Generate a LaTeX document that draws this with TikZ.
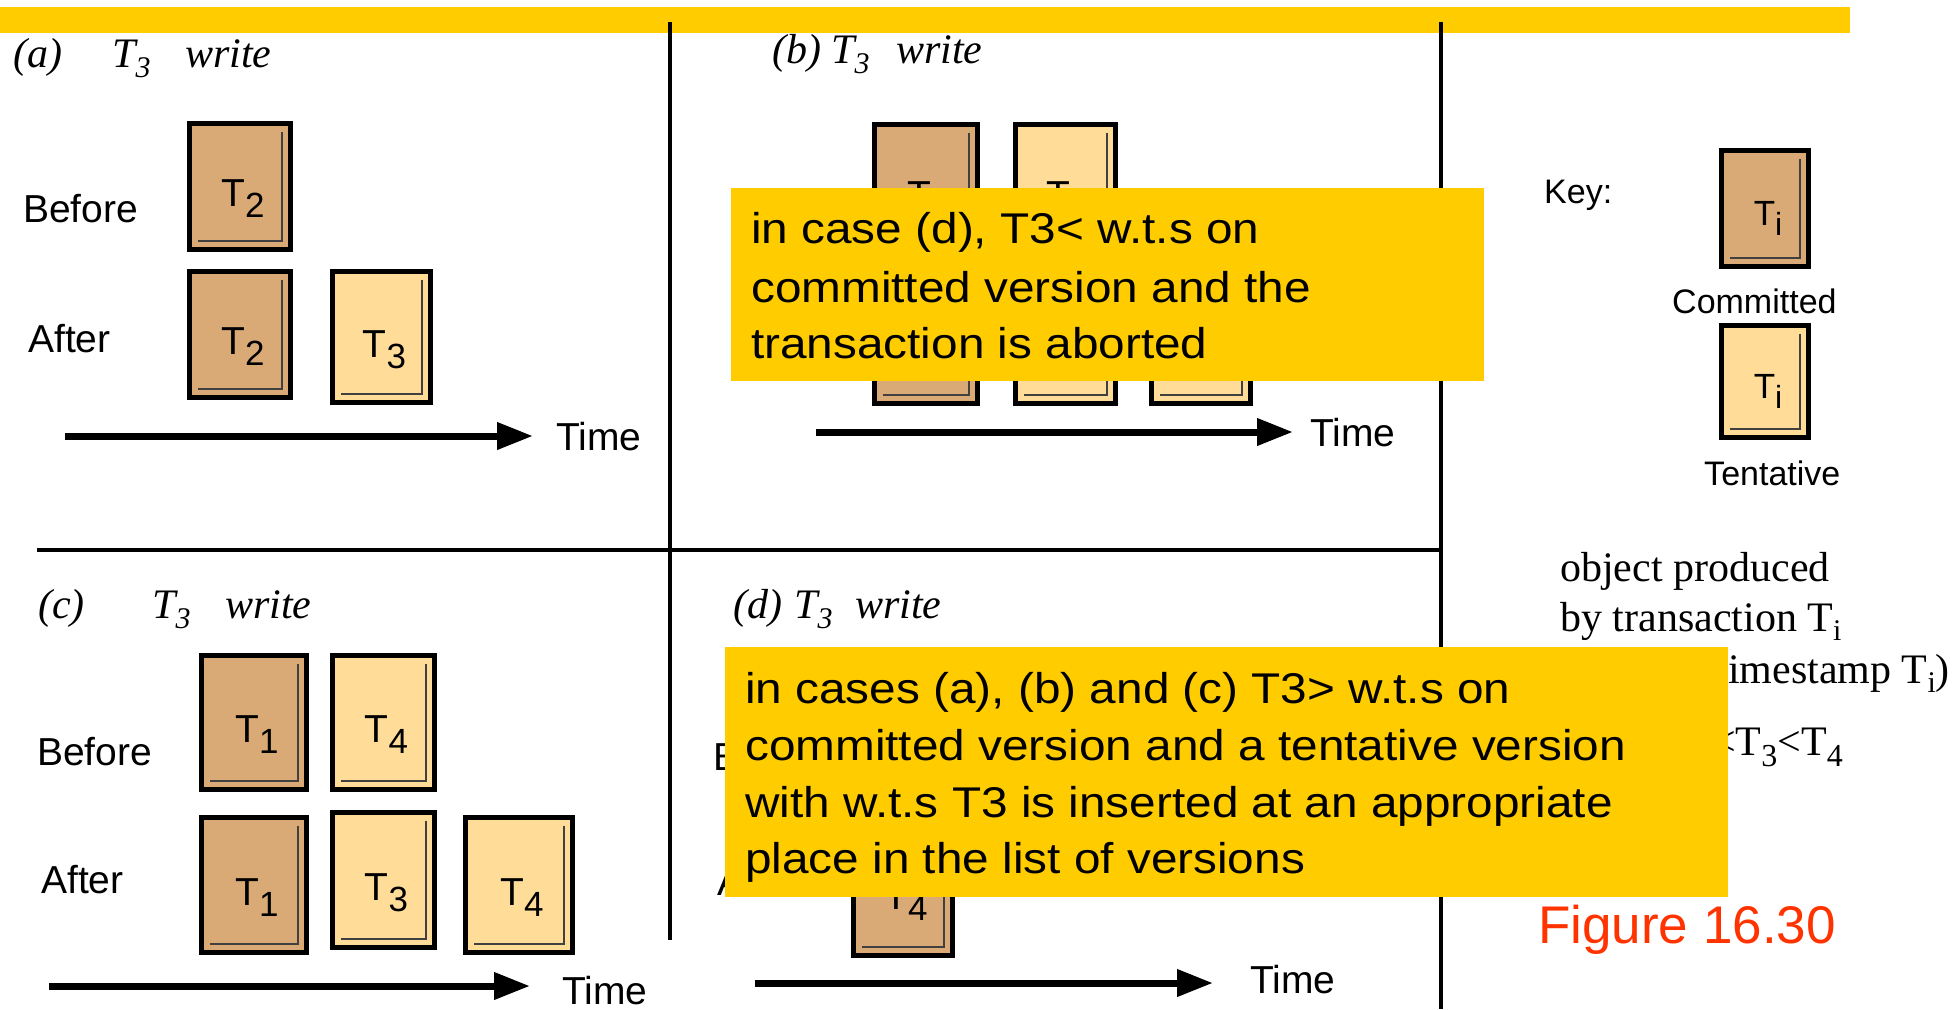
\documentclass[tikz,border=0pt]{standalone}
\usepackage{fontspec}
\setmainfont{Liberation Sans}
\newfontfamily\tmsfont{Liberation Serif}
\newfontfamily\callfont[FakeStretch=1.11]{Liberation Sans}
\usetikzlibrary{arrows.meta}
\definecolor{barY}{HTML}{FFCC00}
\definecolor{commitC}{HTML}{D9AA75}
\definecolor{tentC}{HTML}{FFDD99}
\definecolor{figred}{HTML}{FF3300}
\newcommand{\sbT}[1]{T\raisebox{-11pt}{\fontsize{35}{35}\selectfont #1}}
\newcommand{\keyT}{T\raisebox{-10pt}{\fontsize{32}{32}\selectfont i}}
\newcommand{\itT}{T\raisebox{-10pt}{\fontsize{30}{30}\selectfont 3}}
\newcommand{\serT}[1]{T\raisebox{-9pt}{\fontsize{30}{30}\selectfont #1}}
\tikzset{
 committed/.style={draw=black, line width=5pt, fill=commitC, inner sep=0pt, outer sep=0pt},
 tentative/.style={draw=black, line width=5pt, fill=tentC, inner sep=0pt, outer sep=0pt},
 innerline/.style={draw=black!75, line width=1.5pt},
 boxlabel/.style={inner sep=0pt, anchor=base, font=\fontsize{39}{41}\selectfont},
 keylabel/.style={inner sep=0pt, anchor=base, font=\fontsize{35}{38}\selectfont},
 rowlabel/.style={inner sep=0pt, anchor=base west, font=\fontsize{39}{42}\selectfont},
 caselabel/.style={inner sep=0pt, anchor=base west, font=\tmsfont\itshape\fontsize{42}{46}\selectfont},
 keytext/.style={inner sep=0pt, anchor=base west, font=\fontsize{34}{36}\selectfont},
 serif/.style={inner sep=0pt, font=\tmsfont\fontsize{42}{46}\selectfont},
 timelabel/.style={inner sep=0pt, anchor=base west, font=\fontsize{39}{42}\selectfont},
 timearrow/.style={line width=7pt, -{Triangle[length=36pt,width=26pt]}},
 divider/.style={line width=3.5pt},
 callbox/.style={fill=barY, inner sep=0pt, outer sep=0pt, anchor=north west},
 calltext/.style={inner sep=0pt, anchor=base west, font=\callfont\fontsize{43}{57}\selectfont},
}
% box without label: #1 name, #2 style, #3 x, #4 y, #5 w, #6 h
\newcommand{\verboxnl}[6]{%
  \node[#2, minimum width=#5pt, minimum height=#6pt] (#1) at (#3,#4) {};
  \draw[innerline] ([xshift=-8.5pt,yshift=-8pt]#1.north east) -- ([xshift=-8.5pt,yshift=8.5pt]#1.south east) -- ([xshift=8.5pt,yshift=8.5pt]#1.south west);
}
% box with label: #7 label, #8 label style, #9 label drop
\newcommand{\verbox}[9]{%
  \verboxnl{#1}{#2}{#3}{#4}{#5}{#6}%
  \node[#8] (#1-t) at ([xshift=3pt,yshift=-#9pt]#1.center) {#7};
}
\begin{document}
\begin{tikzpicture}[x=1pt, y=-1pt]
\useasboundingbox (0,0) rectangle (1956,1009);
% top bar
\node[fill=barY, minimum width=1850pt, minimum height=26pt, anchor=north west, inner sep=0pt, outer sep=0pt] (topbar) at (0,7) {};
% dividers
\coordinate (v1t) at (670,22); \coordinate (v1b) at (670,940);
\coordinate (v2t) at (1441,22); \coordinate (v2b) at (1441,1009);
\coordinate (hl) at (37,550); \coordinate (hr) at (1441,550);
\draw[divider] (v1t) -- (v1b);
\draw[divider] (v2t) -- (v2b);
\draw[divider] (hl) -- (hr);

% ---- panel (a)
\node[caselabel] (ap) at (13,67) {(a)};
\node[caselabel] (aT) at (112,67) {\itT};
\node[caselabel] (aw) at (185,67) {write};
\node[rowlabel] (abefore) at (23,222) {Before};
\node[rowlabel] (aafter) at (28,352) {After};
\verbox{a1}{committed}{240}{186.5}{101}{126}{\sbT{2}}{boxlabel}{20}
\verbox{a2}{committed}{240}{334.5}{101}{126}{\sbT{2}}{boxlabel}{20}
\verbox{a3}{tentative}{381.5}{337}{98}{131}{\sbT{3}}{boxlabel}{20}
\coordinate (ta1) at (65,436); \coordinate (ta2) at (533,436);
\draw[timearrow] (ta1) -- (ta2);
\node[timelabel] (atime) at (556,450) {Time};

% ---- panel (b)
\node[caselabel] (bp) at (772,63) {(b)};
\node[caselabel] (bT) at (831,63) {\itT};
\node[caselabel] (bw) at (896,63) {write};
\verbox{b1}{committed}{926}{188}{103}{127}{\sbT{2}}{boxlabel}{20}
\verbox{b2}{tentative}{1065.5}{188}{100}{127}{\sbT{4}}{boxlabel}{20}
\verboxnl{b3}{committed}{926}{339}{103}{129}
\verboxnl{b4}{tentative}{1065.5}{339}{100}{129}
\verboxnl{b5}{tentative}{1201}{339}{99}{129}
\coordinate (tb1) at (816,432); \coordinate (tb2) at (1293,432);
\draw[timearrow] (tb1) -- (tb2);
\node[timelabel] (btime) at (1310,446) {Time};

% ---- panel (c)
\node[caselabel] (cp) at (38,618) {(c)};
\node[caselabel] (cT) at (152,618) {\itT};
\node[caselabel] (cw) at (225,618) {write};
\node[rowlabel] (cbefore) at (37,765) {Before};
\node[rowlabel] (cafter) at (41,893) {After};
\verbox{c1}{committed}{254}{722.5}{105}{134}{\sbT{1}}{boxlabel}{20}
\verbox{c2}{tentative}{383.5}{722.5}{102}{134}{\sbT{4}}{boxlabel}{20}
\verbox{c3}{committed}{254}{885}{105}{135}{\sbT{1}}{boxlabel}{20}
\verbox{c4}{tentative}{383.5}{880}{102}{135}{\sbT{3}}{boxlabel}{20}
\verbox{c5}{tentative}{519}{885}{107}{135}{\sbT{4}}{boxlabel}{20}
\coordinate (tc1) at (49,986); \coordinate (tc2) at (530,986);
\draw[timearrow] (tc1) -- (tc2);
\node[timelabel] (ctime) at (562,1004) {Time};

% ---- panel (d)
\node[caselabel] (dp) at (733,618) {(d)};
\node[caselabel] (dT) at (794,618) {\itT};
\node[caselabel] (dw) at (855,618) {write};
\node[rowlabel] (dbefore) at (713,770) {Before};
\node[rowlabel] (dafter) at (717,895) {After};
\verboxnl{d1}{committed}{903}{720}{99}{135}
\verbox{d2}{committed}{903}{889}{99}{133}{\sbT{4}}{boxlabel}{20}
\coordinate (td1) at (755,983); \coordinate (td2) at (1213,983);
\draw[timearrow] (td1) -- (td2);
\node[timelabel] (dtime) at (1250,993) {Time};

% ---- key
\node[keytext] (key) at (1544,203) {Key:};
\verbox{k1}{committed}{1765}{208.5}{87}{116}{\keyT}{keylabel}{17}
\node[keytext] (kc) at (1672,313) {Committed};
\verbox{k2}{tentative}{1765}{381.5}{87}{112}{\keyT}{keylabel}{17}
\node[keytext] (kt) at (1704,485) {Tentative};
\node[serif, anchor=base west] (obj1) at (1560,581) {object produced};
\node[serif, anchor=base west] (obj2) at (1560,631) {by transaction \serT{i}};
\node[serif, anchor=base east] (obj3) at (1950,683) {(with write timestamp \serT{i})};
\node[serif, anchor=base east] (order) at (1843,755) {\serT{1}<\serT{2}<T\raisebox{-11pt}{\fontsize{32}{32}\selectfont 3}<T\raisebox{-11pt}{\fontsize{32}{32}\selectfont 4}};
\node[inner sep=0pt, anchor=base west, text=figred, font=\fontsize{53}{56}\selectfont] (fig) at (1538,943) {Figure 16.30};

% ---- callouts
\node[callbox, minimum width=753pt, minimum height=193pt] (call1) at (731,188) {};
\node[calltext] (c1l1) at (751,243) {in case (d), T3< w.t.s on};
\node[calltext] (c1l2) at (751,302) {committed version and the};
\node[calltext] (c1l3) at (751,358) {transaction is aborted};
\node[callbox, minimum width=1003pt, minimum height=250pt] (call2) at (725,647) {};
\node[calltext] (c2l1) at (745,703) {in cases (a), (b) and (c) T3> w.t.s on};
\node[calltext] (c2l2) at (745,760) {committed version and a tentative version};
\node[calltext] (c2l3) at (745,817) {with w.t.s T3 is inserted at an appropriate};
\node[calltext] (c2l4) at (745,873) {place in the list of versions};
\end{tikzpicture}
\end{document}
